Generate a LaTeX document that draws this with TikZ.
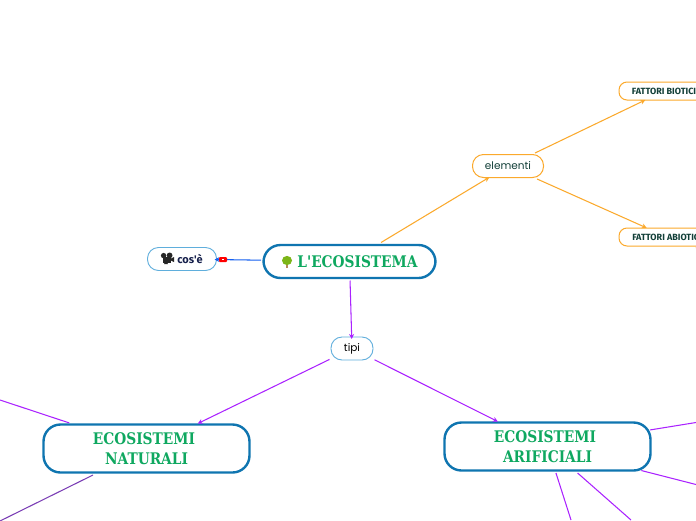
\documentclass[tikz,border=0pt]{standalone}
\usepackage{fontspec}
\usetikzlibrary{arrows.meta}
\setmainfont{Poppins}
\newfontfamily\titlefont[FakeStretch=0.86,UprightFont=* Bold]{DejaVu Serif}
\newfontfamily\labelfont[UprightFont=* Bold]{Fira Sans}
\definecolor{bigblue}{HTML}{0F75B0}
\definecolor{smallblue}{HTML}{5FAEDC}
\definecolor{titlegreen}{HTML}{0FA860}
\definecolor{linkorange}{HTML}{FBA92C}
\definecolor{linkviolet}{HTML}{AA22FF}
\definecolor{linkdeep}{HTML}{7A3DB5}
\definecolor{linkblue}{HTML}{1560F0}
\definecolor{navy}{HTML}{16204C}
\definecolor{deepteal}{HTML}{123F38}
\definecolor{treegreen}{HTML}{7CB518}
\definecolor{treetrunk}{HTML}{B5875A}
\tikzset{
  bigbox/.style={draw=bigblue,line width=2.4pt,rounded corners=17pt,fill=white,inner sep=0pt,outer sep=2.5pt,
    text=titlegreen,align=center,font=\titlefont\fontsize{16}{20}\selectfont},
  smallbox/.style={draw=smallblue,line width=0.9pt,rounded corners=11pt,fill=white,inner sep=0pt,outer sep=1.5pt,
    minimum height=23pt,font=\fontsize{10.5}{12}\selectfont},
  orangebox/.style={draw=linkorange,line width=1pt,rounded corners=8pt,fill=white,inner sep=0pt,outer sep=1.5pt},
  factorbox/.style={orangebox,minimum height=18pt,text=deepteal,font=\labelfont\fontsize{9}{10}\selectfont},
  link/.style={line width=1.05pt},
  tipped/.style={link,shorten >=-3.5pt,-{Stealth[length=5pt,width=5pt]}},
}
\begin{document}
\begin{tikzpicture}[x=1pt,y=-1pt]
\path[fill=white] (0,0) rectangle (696,520);
\clip (0,0) rectangle (696,520);
% free ends
\coordinate (endA) at (0,400);
\coordinate (endB) at (0,521);
\coordinate (endC) at (696,422.5);
\coordinate (endD) at (696,484.5);
\coordinate (endE) at (631,520);
\coordinate (endF) at (571,520);
\coordinate (endG) at (700,249);
% nodes
\node[bigbox,minimum width=172pt,minimum height=33pt] (main) at (349.5,261.5) {\hspace*{16pt}L'ECOSISTEMA};
\node[bigbox,minimum width=206pt,minimum height=48pt] (nat) at (146.5,448.5) {ECOSISTEMI\hspace*{5pt}\\NATURALI};
\node[bigbox,minimum width=206pt,minimum height=48pt] (art) at (547.5,446.5) {ECOSISTEMI\hspace*{5pt}\\ARIFICIALI};
\node[smallbox,minimum width=69pt,text=navy,font=\labelfont\fontsize{11}{12}\selectfont] (cos) at (182,259) {\hspace*{16pt}cos'è};
\node[smallbox,minimum width=42pt,text=black] (tipi) at (352,348.5) {tipi};
\node[orangebox,minimum width=71pt,minimum height=23pt,rounded corners=11pt,text=deepteal,font=\fontsize{10.5}{12}\selectfont] (elem) at (508,166) {elementi};
\node[factorbox,minimum width=90pt] (biot) at (664,91) {FATTORI BIOTICI};
\node[factorbox,minimum width=96pt] (abiot) at (667,237) {FATTORI ABIOTICI};
% connectors
\draw[tipped,linkorange] (main) -- (elem);
\draw[tipped,linkorange] (elem) -- (biot);
\draw[tipped,linkorange] (elem) -- (abiot);
\draw[link,linkorange] (abiot) -- (endG);
\draw[tipped,linkblue] (main) -- (cos);
\draw[tipped,linkviolet] (main) -- (tipi);
\draw[tipped,linkviolet] (tipi) -- (nat);
\draw[tipped,linkviolet] (tipi) -- (art);
\draw[link,linkviolet,shorten <=-3pt] (nat) -- (endA);
\draw[link,linkdeep] (nat) -- (endB);
\draw[link,linkviolet,shorten <=-3pt] (art) -- (endC);
\draw[link,linkviolet,shorten <=-10pt] (art) -- (endD);
\draw[link,linkviolet] (art) -- (endE);
\draw[link,linkviolet] (art) -- (endF);
% red tag on the cos'e connector
\node[fill=red,rounded corners=1pt,minimum width=8pt,minimum height=5pt,inner sep=0pt] (tag) at (223,259.5) {};
\fill[white] (222.2,258.9) rectangle (223.8,260.1);
% tree icon
\fill[treetrunk] (286,262) rectangle (288,267.5);
\fill[treegreen] (287,260.5) ellipse (5pt and 4.6pt);
% film camera icon
\fill[black!85] (163.6,255.6) circle (2.7pt);
\fill[black!85] (169.6,255.4) circle (2.9pt);
\fill[black!85] (162.5,257) rectangle (171,263);
\fill[black!85] (164,264) -- (166,260) -- (168,264) -- cycle;
\fill[black!85] (171,258.5) -- (174,257) -- (174,262) -- (171,260.5) -- cycle;
\end{tikzpicture}
\end{document}
